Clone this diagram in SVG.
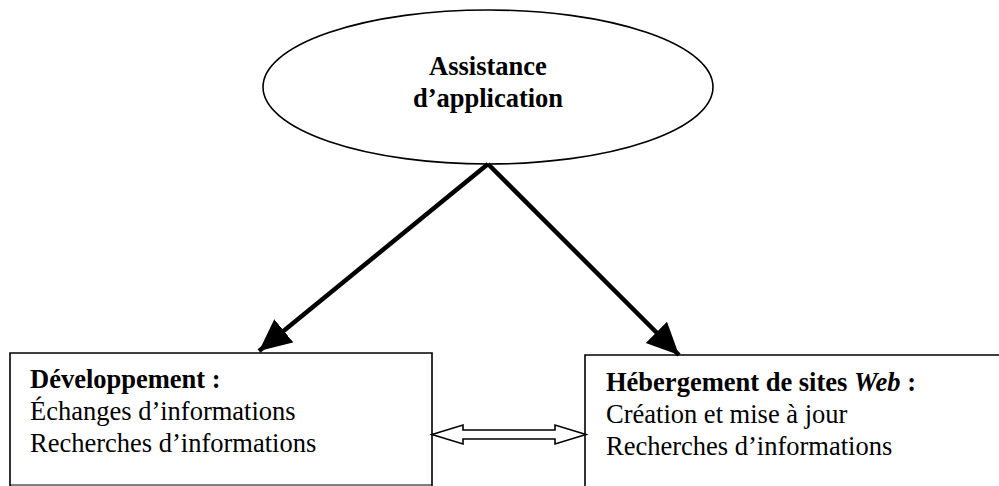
<svg xmlns="http://www.w3.org/2000/svg" width="999" height="486" viewBox="0 0 999 486">
<style>
.box{fill:#fff;stroke:#000;stroke-width:1.6}
.t{font-family:"Liberation Serif","Times New Roman",serif;font-size:26.5px;fill:#000}
.b{font-weight:bold}
.conn{stroke:#000;stroke-width:4.5;fill:none}
</style>
<defs>
<marker id="ah" markerUnits="userSpaceOnUse" markerWidth="36" markerHeight="32" refX="32" refY="15" orient="auto">
<path d="M0,0 L32,15 L0,30 Z" fill="#000"/>
</marker>
</defs>
<rect width="999" height="486" fill="#fff"/>
<g id="assistance">
<ellipse class="box" cx="488" cy="87" rx="225" ry="77"/>
<text class="t b" x="488" y="75" text-anchor="middle">Assistance</text>
<text class="t b" x="488" y="107" text-anchor="middle">d’application</text>
</g>
<g id="developpement">
<path class="box" d="M10,486 L10,353 L432,353 L432,486"/>
<line x1="10" y1="485" x2="432" y2="485" stroke="#000" stroke-width="1.2"/>
<text class="t b" x="30" y="388">Développement :</text>
<text class="t" x="30" y="420">Échanges d’informations</text>
<text class="t" x="30" y="452">Recherches d’informations</text>
</g>
<g id="hebergement">
<path class="box" d="M585,486 L585,355 L999,355"/>
<text class="t b" x="606" y="391">Hébergement de sites <tspan font-style="italic">Web</tspan> :</text>
<text class="t" x="606" y="423">Création et mise à jour</text>
<text class="t" x="606" y="455">Recherches d’informations</text>
</g>
<g id="connectors">
<line class="conn" x1="488" y1="164" x2="259" y2="351" marker-end="url(#ah)"/>
<line class="conn" x1="488" y1="164" x2="679" y2="355" marker-end="url(#ah)"/>
<polygon points="432,434.5 463,425 463,430 555,430 555,425 586,434.5 555,444 555,439 463,439 463,444" fill="#fff" stroke="#000" stroke-width="1.6"/>
</g>
</svg>
